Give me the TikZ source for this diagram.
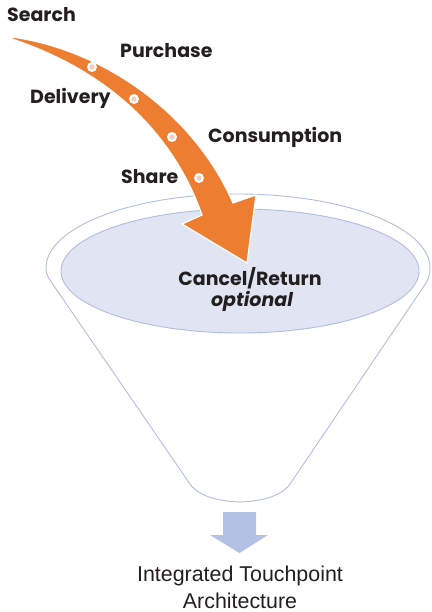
\documentclass[tikz,border=0pt]{standalone}
\usepackage{fontspec}
\usetikzlibrary{shapes.geometric}
\setmainfont{Liberation Sans}
\newfontfamily\lab{Poppins}
\definecolor{orng}{RGB}{237,125,49}
\definecolor{lav}{RGB}{225,228,242}
\definecolor{lavline}{RGB}{176,190,224}
\definecolor{lavarrow}{RGB}{180,192,228}
\definecolor{dotpink}{RGB}{245,205,190}
\definecolor{txt}{RGB}{35,31,32}
\begin{document}
\begin{tikzpicture}[x=1pt,y=-1pt,
  lbl/.style={inner sep=0pt,anchor=base west,font=\lab\bfseries\fontsize{19}{22}\selectfont,text=txt},
  stopdot/.style={circle,fill=white,minimum size=10pt,inner sep=0pt},
  funnelline/.style={draw=lavline,line width=0.9pt}]
\useasboundingbox (0,0) rectangle (431,612);
% funnel outline
\path[funnelline,fill=white] (46,268) arc[start angle=180,end angle=360,x radius=192,y radius=74]
  .. controls (430,276) and (428,280) .. (424,286) -- (290,484)
  .. controls (285,492) and (270,501) .. (240,502)
  .. controls (210,501) and (195,492) .. (190,484) -- (54,286)
  .. controls (50,280) and (46,276) .. cycle;
% inner ellipse
\node[funnelline,fill=lav,ellipse,minimum width=358pt,minimum height=124pt,inner sep=0pt] (rim) at (240,271) {};
% orange arrow
\path[fill=orng,draw=white,line width=1.2pt,line join=miter]
  (12,37) .. controls (105,50) and (195,115) .. (233,203)
  -- (256,195) -- (247,263) -- (182,224) -- (202,215)
  .. controls (172,130) and (105,70) .. (12,39) -- cycle;
\foreach \n/\x/\y in {d1/92/67,d2/134/99,d3/172/137,d4/199/178}{
  \node[stopdot] (\n) at (\x,\y) {};
  \fill[dotpink] (\n.center) circle[radius=2.6pt];
}
% labels
\node[lbl] (search) at (7,22) {Search};
\node[lbl] (purchase) at (120,58) {Purchase};
\node[lbl] (delivery) at (30,104) {Delivery};
\node[lbl] (consumption) at (208,143) {Consumption};
\node[lbl] (share) at (121,184) {Share};
\node[lbl,anchor=base] (cancel) at (250,285) {Cancel/Return};
\node[lbl,anchor=base] (optional) at (252,306) {\itshape optional};
% bottom arrow
\fill[lavarrow] (223,512) -- (256,512) -- (256,535) -- (268,535) -- (239.5,553) -- (210,535) -- (223,535) -- cycle;
\node[inner sep=0pt,align=center,font=\fontsize{21.4}{27}\selectfont,text=txt,anchor=base] (arch) at (240,608) {Integrated Touchpoint\\Architecture};
\end{tikzpicture}
\end{document}
